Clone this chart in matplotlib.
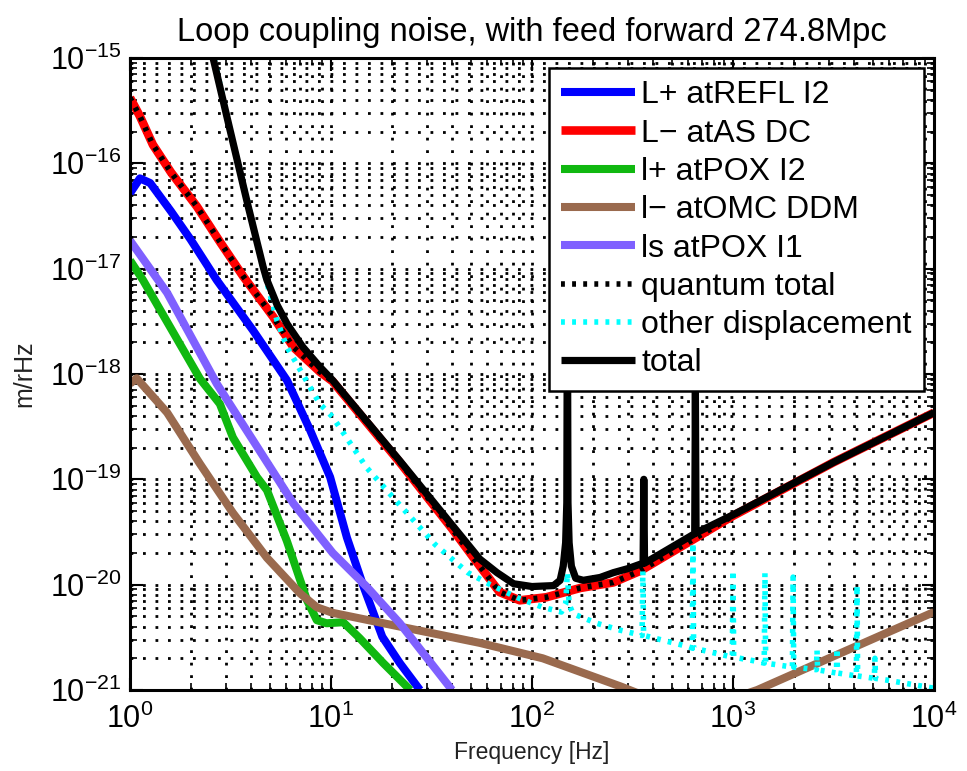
import matplotlib
matplotlib.use("Agg")
import matplotlib.pyplot as plt
import numpy as np
from matplotlib.ticker import FixedLocator, LogLocator, NullFormatter

# L+ atREFL I2
f_refl = [1, 1.12, 1.26, 1.6, 2.0, 2.7, 4.09, 6.04, 7.86, 9.9, 12, 14.4, 18, 22, 27.7]
n_refl = [5.2e-17, 7.2e-17, 6.5e-17, 3.5e-17, 1.9e-17, 7.8e-18, 2.6e-18, 8.7e-19,
          2.95e-19, 1.05e-19, 2.8e-20, 1e-20, 3.2e-21, 1.8e-21, 1e-21]

# L- atAS DC
f_asdc = [1, 1.12, 1.3, 1.6, 2.15, 2.8, 3.65, 5.15, 6.5, 8.8, 10.2, 22, 40, 55, 69, 87,
          118, 174, 254, 345, 1000, 3162, 10000]
n_asdc = [4.2e-16, 2.8e-16, 1.5e-16, 8.2e-17, 3.9e-17, 1.8e-17, 8.5e-18, 3.5e-18, 1.8e-18,
          1.05e-18, 8.5e-19, 1.45e-19, 3.4e-20, 1.5e-20, 8.5e-21, 7.1e-21, 7.6e-21, 9.3e-21,
          1.05e-20, 1.35e-20, 4.5e-20, 1.45e-19, 4.3e-19]

# l+ atPOX I2
f_pox2 = [1, 1.16, 2.23, 2.8, 3.25, 4.28, 4.8, 6.03, 7.6, 8.5, 9.5, 11.5, 13.9, 18.2, 24.8]
n_pox2 = [1.2e-17, 7.8e-18, 9e-19, 5.2e-19, 2.5e-19, 1.05e-19, 7.9e-20, 2.6e-20, 7.1e-21,
          4.6e-21, 4.3e-21, 4.4e-21, 3.1e-21, 1.8e-21, 1e-21]

# l- atOMC DDM
f_omc = [1, 1.08, 1.53, 2.23, 3.25, 4.8, 7.0, 8.5, 10.2, 22, 55, 113, 280, 600, 1320, 3000, 10000]
n_omc = [8.1e-19, 9.1e-19, 4.3e-19, 1.4e-19, 4.8e-20, 1.8e-20, 8.3e-21, 6.1e-21, 5.4e-21,
         4e-21, 2.8e-21, 2.0e-21, 1.07e-21, 6e-22, 1e-21, 2.0e-21, 5.5e-21]

# ls atPOX I1
f_pox1 = [1, 1.53, 2.7, 6.5, 10.2, 15.1, 22, 40]
n_pox1 = [1.85e-17, 5.9e-18, 8.1e-19, 5.9e-20, 2e-20, 9.5e-21, 4.3e-21, 1e-21]

# quantum total (sits on top of L- atAS DC)
f_quant = f_asdc
n_quant = n_asdc

# other displacement
f_other = [2.62, 3.16, 3.9, 4.6, 5.39, 6.04, 8.8, 10.2, 12.9, 15, 22, 33, 48, 62, 85, 113,
           140, 147, 150, 153, 160, 210, 274, 353, 356, 359, 590, 627, 632, 637, 992, 1000,
           1008, 1258, 1430, 1442, 1454, 1975, 1990, 2005, 2600, 2618, 2636, 2710, 3270,
           3290, 3310, 4110, 4140, 4170, 5050, 5085, 5120, 5840, 10000]
n_other = [1e-15, 2e-16, 3.9e-17, 1e-17, 3.2e-18, 1.8e-18, 5.2e-19, 3.9e-19, 2e-19, 1.3e-19,
           5.7e-20, 2.4e-20, 1.3e-20, 1e-20, 7.5e-21, 6.1e-21, 5.5e-21, 6.5e-21, 1.3e-20,
           6.5e-21, 5.3e-21, 4.3e-21, 3.7e-21, 3.3e-21, 1.35e-20, 3.3e-21, 2.6e-21, 2.5e-21,
           2.5e-20, 2.5e-21, 2.05e-21, 1.37e-20, 2.05e-21, 1.9e-21, 1.8e-21, 1.29e-20, 1.8e-21,
           1.65e-21, 1.18e-20, 1.65e-21, 1.56e-21, 2.4e-21, 1.56e-21, 1.54e-21, 1.45e-21,
           2.5e-21, 1.45e-21, 1.36e-21, 9.9e-21, 1.36e-21, 1.29e-21, 2.0e-21, 1.29e-21,
           1.24e-21, 1.04e-21]

# total
f_total = [2.59, 3.14, 3.86, 4.59, 4.8, 5.4, 6.04, 7.25, 8.8, 10.2, 22, 55, 67, 81, 100, 128,
           138, 143, 147, 149, 150, 151, 153, 157, 165, 180, 218, 254, 300, 357, 360, 363,
           645, 650, 655, 1000, 3162, 10000]
n_total = [1e-15, 2.1e-16, 4e-17, 1.05e-17, 7.8e-18, 4.5e-18, 3e-18, 1.8e-18, 1.17e-18,
           8.7e-19, 1.5e-19, 1.75e-20, 1.3e-20, 1.02e-20, 9.6e-21, 9.8e-21, 1.1e-20, 1.5e-20,
           2.5e-20, 6e-20, 8e-18, 6e-20, 2.5e-20, 1.5e-20, 1.15e-20, 1.1e-20, 1.17e-20,
           1.3e-20, 1.42e-20, 1.6e-20, 1e-19, 1.6e-20, 3.05e-20, 7e-19, 3.1e-20, 4.6e-20,
           1.45e-19, 4.3e-19]

x_ticks = [1, 10, 100, 1000, 10000]
y_ticks = [1e-21, 1e-20, 1e-19, 1e-18, 1e-17, 1e-16, 1e-15]

plt.rcParams['font.family'] = ['Liberation Sans', 'DejaVu Sans']
plt.rcParams['mathtext.fontset'] = 'custom'
plt.rcParams['mathtext.rm'] = 'Liberation Sans'
plt.rcParams['mathtext.it'] = 'Liberation Sans:italic'
plt.rcParams['mathtext.bf'] = 'Liberation Sans:bold'

fig = plt.figure(figsize=(9.67, 7.71), dpi=100)
ax = fig.add_axes([130 / 967, 1 - 690 / 771, 804 / 967, 632 / 771])

kw = dict(solid_joinstyle='round', solid_capstyle='butt')
ax.loglog(f_refl, n_refl, color='#0000ff', lw=5.8, label='L+ atREFL I2', **kw)
ax.loglog(f_asdc, n_asdc, color='#ff0000', lw=6.2, label='L\u2212 atAS DC', **kw)
ax.loglog(f_pox2, n_pox2, color='#10b810', lw=5.8, label='l+ atPOX I2', **kw)
ax.loglog(f_omc, n_omc, color='#9a6a4e', lw=5.8, label='l\u2212 atOMC DDM', **kw)
ax.loglog(f_pox1, n_pox1, color='#7f60ff', lw=5.8, label='ls atPOX I1', **kw)
ax.loglog(f_quant, n_quant, color='k', lw=4, linestyle=(0, (0.7, 1.3)), label='quantum total')
ax.loglog(f_other, n_other, color='#00ffff', lw=4, linestyle=(0, (0.7, 1.3)),
          label='other displacement')
ax.loglog(f_total, n_total, color='k', lw=5.2, label='total', **kw)

ax.set_xlim(1, 1e4)
ax.set_ylim(1e-21, 1e-15)

ax.xaxis.set_major_locator(FixedLocator(x_ticks))
ax.yaxis.set_major_locator(FixedLocator(y_ticks))
ax.xaxis.set_minor_locator(LogLocator(base=10, subs=np.arange(2, 10), numticks=100))
ax.yaxis.set_minor_locator(LogLocator(base=10, subs=np.arange(2, 10), numticks=100))
ax.xaxis.set_minor_formatter(NullFormatter())
ax.yaxis.set_minor_formatter(NullFormatter())

ax.grid(True, which='both', color='k', linestyle=(0, (1, 3.5)), linewidth=2)
ax.tick_params(which='both', direction='in', top=True, right=True, labelsize=22)
ax.tick_params(which='major', length=9, width=1.5)
ax.tick_params(which='minor', length=5, width=1.2)
ax.tick_params(axis='x', which='major', pad=10)
ax.tick_params(axis='y', which='major', pad=6)
for s in ax.spines.values():
    s.set_linewidth(2.2)

ax.set_xlabel('Frequency [Hz]', fontsize=16.5, color='#222222', labelpad=4)
ax.set_ylabel('m/rHz', fontsize=18, color='#222222', labelpad=10)
ax.set_title('Loop coupling noise, with feed forward 274.8Mpc', fontsize=23.5, pad=12)

leg = ax.legend(loc='upper right', fontsize=23, frameon=True, fancybox=False, edgecolor='k',
                framealpha=1, handlelength=2.3, handletextpad=0.2, labelspacing=0.26,
                borderpad=0.4, borderaxespad=0.3)
leg.get_frame().set_linewidth(1.8)

fig.savefig('out.png', dpi=100)
